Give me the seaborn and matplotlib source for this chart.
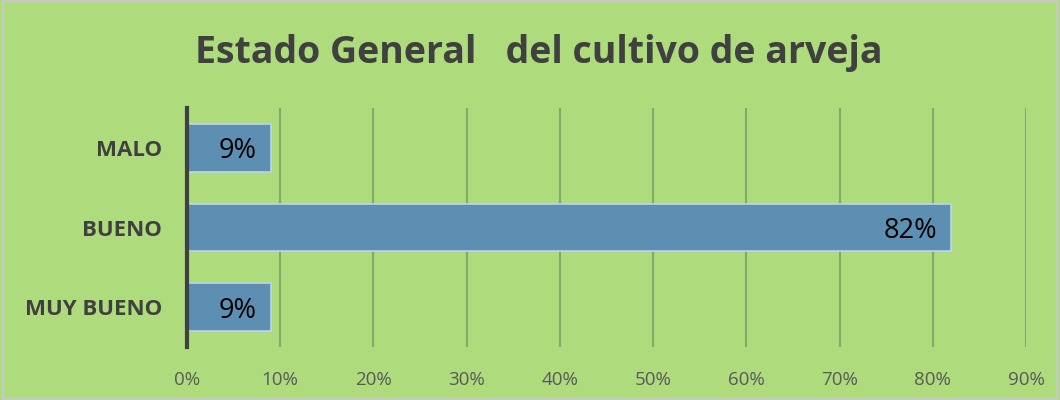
import matplotlib
matplotlib.use("Agg")
import matplotlib.pyplot as plt
import seaborn as sns
import pandas as pd

categories = ["MALO", "BUENO", "MUY BUENO"]
values = [0.09, 0.82, 0.09]
labels = ["9%", "82%", "9%"]
xticks = [0, 0.1, 0.2, 0.3, 0.4, 0.5, 0.6, 0.7, 0.8, 0.9]
xticklabels = ["0%", "10%", "20%", "30%", "40%", "50%", "60%", "70%", "80%", "90%"]
title = "Estado General   del cultivo de arveja"

sns.set_theme(style="white")
plt.rcParams['font.family'] = ['Open Sans', 'DejaVu Sans']

bg = "#AEDC7C"
fig = plt.figure(figsize=(10.6, 4.0), dpi=100, facecolor=bg)
ax = fig.add_axes([0.1764, 0.1325, 0.968 - 0.1764, 0.5975])
ax.set_facecolor(bg)

df = pd.DataFrame({"cat": categories, "val": values})
sns.barplot(data=df, x="val", y="cat", orient="h", color="#5B8DB6", saturation=1,
            width=0.6, edgecolor="#BDD7EE", linewidth=1.2, ax=ax, zorder=3, alpha=0.97)

ax.set_xlim(0, 0.9)
ax.set_ylim(2.5, -0.5)
ax.set_xticks(xticks)
ax.set_xticklabels(xticklabels, color="#595959", fontsize=13.5)
ax.tick_params(axis="x", length=0, pad=17)
ax.tick_params(axis="y", length=0, pad=18)
for t in ax.get_yticklabels():
    t.set_fontweight("bold")
    t.set_fontsize(16)
    t.set_color("#404040")
ax.set_xlabel("")
ax.set_ylabel("")
ax.grid(axis="x", color="#86A868", linewidth=1.5, zorder=1)
ax.set_axisbelow(True)
for s in ["top", "right", "bottom"]:
    ax.spines[s].set_visible(False)
ax.spines["left"].set_color("#404040")
ax.spines["left"].set_linewidth(3)
ax.spines["left"].set_zorder(5)

for i, (v, lab) in enumerate(zip(values, labels)):
    ax.text(v - 0.015, i, lab, ha="right", va="center_baseline", fontsize=19.5,
            color="black", zorder=6)

fig.text(0.508, 0.868, title, ha="center", va="center", fontsize=27,
         fontweight="bold", color="#404040")

border = plt.Rectangle((0.003, 0.003), 0.994, 0.994, transform=fig.transFigure,
                       fill=False, edgecolor="#C8C8C8", linewidth=1.5)
fig.patches.append(border)

fig.savefig("out.png", dpi=100, facecolor=bg)
